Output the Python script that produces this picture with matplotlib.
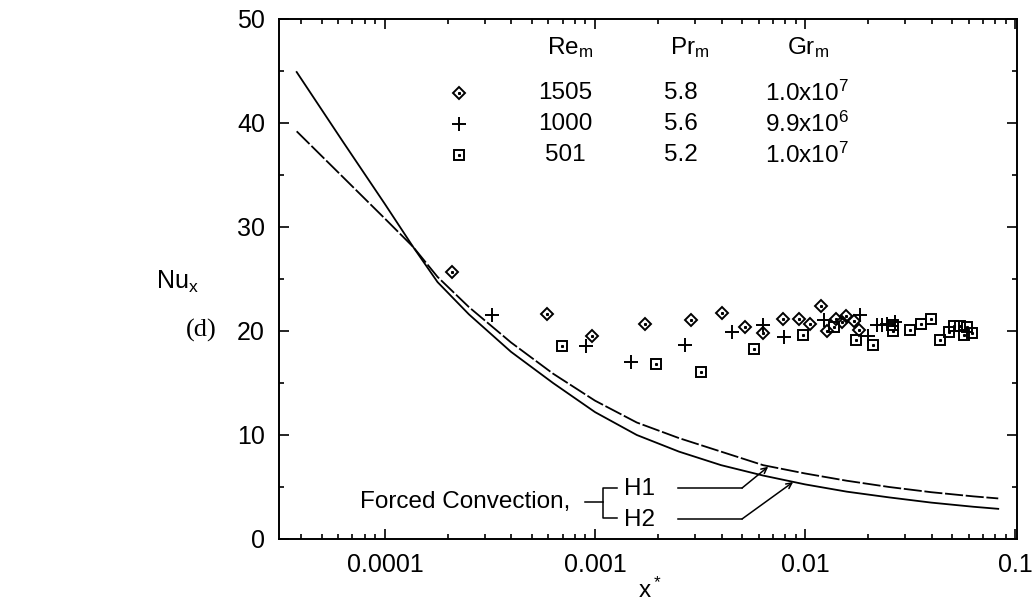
import matplotlib
matplotlib.use("Agg")
import matplotlib.pyplot as plt
from matplotlib.ticker import FixedLocator, NullFormatter, LogLocator

plt.rcParams["font.family"] = ["Liberation Sans", "DejaVu Sans"]
plt.rcParams["mathtext.fontset"] = "custom"
plt.rcParams["mathtext.rm"] = "Liberation Sans"
plt.rcParams["mathtext.it"] = "Liberation Sans:italic"

# Forced convection curves
curve_x = [3.8e-5, 6.31e-5, 1.0e-4, 1.36e-4, 1.78e-4, 2.51e-4, 3.98e-4, 6.31e-4, 1.0e-3,
           1.58e-3, 2.51e-3, 3.98e-3, 6.31e-3, 1.0e-2, 1.58e-2, 2.51e-2, 3.98e-2, 6.31e-2, 8.3e-2]
h1_nu = [39.2, 34.8, 30.8, 28.1, 25.2, 22.3, 18.9, 15.9, 13.3,
         11.2, 9.7, 8.4, 7.1, 6.3, 5.6, 5.0, 4.5, 4.1, 3.9]
h2_nu = [44.9, 38.2, 32.2, 28.1, 24.7, 21.6, 18.0, 15.0, 12.2,
         10.0, 8.4, 7.1, 6.1, 5.25, 4.55, 4.0, 3.5, 3.1, 2.9]

# Re_m = 1505
re1505_x = [2.09e-4, 5.89e-4, 9.64e-4, 1.73e-3, 2.86e-3, 4.01e-3, 5.18e-3, 6.30e-3, 7.83e-3,
            9.40e-3, 1.057e-2, 1.189e-2, 1.276e-2, 1.406e-2, 1.496e-2, 1.563e-2, 1.71e-2, 1.795e-2]
re1505_nu = [25.7, 21.6, 19.55, 20.7, 21.1, 21.7, 20.4, 19.8, 21.2,
             21.2, 20.7, 22.4, 20.0, 21.15, 20.9, 21.4, 21.0, 20.1]

# Re_m = 1000
re1000_x = [3.22e-4, 9.06e-4, 1.48e-3, 2.69e-3, 4.48e-3, 6.27e-3, 7.94e-3, 1.225e-2,
            1.83e-2, 2.0e-2, 2.19e-2, 2.32e-2, 2.45e-2, 2.69e-2]
re1000_nu = [21.5, 18.6, 17.05, 18.65, 19.9, 20.6, 19.4, 21.1,
             21.5, 19.5, 20.6, 20.6, 20.7, 20.9]

# Re_m = 501
re501_x = [6.93e-4, 1.95e-3, 3.20e-3, 5.71e-3, 9.75e-3, 1.365e-2, 1.74e-2, 2.11e-2, 2.61e-2,
           2.61e-2, 3.16e-2, 3.56e-2, 3.98e-2, 4.37e-2, 4.82e-2, 5.13e-2, 5.43e-2, 5.68e-2,
           5.89e-2, 6.22e-2]
re501_nu = [18.6, 16.8, 16.1, 18.3, 19.6, 20.35, 19.1, 18.7, 20.6,
            20.0, 20.1, 20.7, 21.2, 19.1, 19.9, 20.5, 20.5, 19.6,
            20.4, 19.8]

table_rows = [("1505", "5.8", "1.0x10$^7$"),
              ("1000", "5.6", "9.9x10$^6$"),
              ("501", "5.2", "1.0x10$^7$")]

FS = 17.5

fig = plt.figure(figsize=(10.34, 6.05), dpi=100)
ax = fig.add_axes([0.2698, 0.1091, 0.7138, 0.8595])

ax.plot(curve_x, h1_nu, color="black", lw=1.3, dashes=(10, 1.5))
ax.plot(curve_x, h2_nu, color="black", lw=1.3)

mk = dict(ls="none", color="black", mfc="none", mew=1.4)
ax.plot(re1505_x, re1505_nu, marker="D", ms=6, **mk)
ax.plot(re1505_x, re1505_nu, marker="s", ms=1.2, ls="none", color="black")
ax.plot(re1000_x, re1000_nu, marker="+", ms=9.5, **mk)
ax.plot(re501_x, re501_nu, marker="s", ms=6.8, **mk)
ax.plot(re501_x, re501_nu, marker="s", ms=1.2, ls="none", color="black")

ax.set_xscale("log")
ax.set_xlim(3.13e-5, 0.102)
ax.set_ylim(0, 50)
ax.set_xticks([1e-4, 1e-3, 1e-2, 1e-1])
ax.set_xticklabels(["0.0001", "0.001", "0.01", "0.1"])
ax.xaxis.set_minor_locator(LogLocator(base=10, subs=range(2, 10), numticks=20))
ax.xaxis.set_minor_formatter(NullFormatter())
ax.set_yticks([0, 10, 20, 30, 40, 50])
ax.yaxis.set_minor_locator(FixedLocator([5, 15, 25, 35, 45]))
ax.tick_params(which="both", direction="in", top=True, right=True, labelsize=18, width=1.2)
ax.tick_params(which="major", length=7, pad=10)
ax.tick_params(which="minor", length=3.5)
for s in ax.spines.values():
    s.set_linewidth(1.4)

tr = ax.transAxes
ax.text(0.503, -0.113, "x$^*$", transform=tr, fontsize=FS, ha="center", va="baseline")
ax.text(-0.137, 0.494, "Nu$_\\mathrm{x}$", transform=tr, fontsize=18, ha="center", va="center")
fig.text(0.195, 0.4545, "(d)", fontsize=19, family="Liberation Serif", ha="center", va="center")

# parameter table
ax.text(0.394, 0.946, "Re$_\\mathrm{m}$", transform=tr, fontsize=FS, ha="center", va="center")
ax.text(0.557, 0.946, "Pr$_\\mathrm{m}$", transform=tr, fontsize=FS, ha="center", va="center")
ax.text(0.717, 0.946, "Gr$_\\mathrm{m}$", transform=tr, fontsize=FS, ha="center", va="center")
row_y = [0.858, 0.798, 0.738]
ax.plot(0.244, row_y[0], marker="D", ms=6, transform=tr, **mk)
ax.plot(0.244, row_y[0], marker="s", ms=1.2, transform=tr, color="black")
ax.plot(0.244, row_y[1], marker="+", ms=9.5, transform=tr, **mk)
ax.plot(0.244, row_y[2], marker="s", ms=6.8, transform=tr, **mk)
ax.plot(0.244, row_y[2], marker="s", ms=1.2, transform=tr, color="black")
for y, (re, pr, gr) in zip(row_y, table_rows):
    ax.text(0.3875, y, re, transform=tr, fontsize=FS, ha="center", va="center")
    ax.text(0.545, y, pr, transform=tr, fontsize=FS, ha="center", va="center")
    ax.text(0.715, y, gr, transform=tr, fontsize=FS, ha="center", va="center")

# forced convection labels
ax.text(0.394, 0.071, "Forced Convection,", transform=tr, fontsize=FS, ha="right", va="center")
ax.plot([0.4146, 0.439], [0.071, 0.071], color="black", lw=1.1, transform=tr)
ax.plot([0.458, 0.439, 0.439, 0.458], [0.098, 0.098, 0.040, 0.040], color="black", lw=1.1, transform=tr)
ax.text(0.467, 0.096, "H1", transform=tr, fontsize=FS, ha="left", va="center")
ax.text(0.467, 0.0365, "H2", transform=tr, fontsize=FS, ha="left", va="center")
ax.plot([0.5407, 0.6274], [0.098, 0.098], color="black", lw=1.1, transform=tr)
ax.plot([0.5407, 0.6274], [0.0385, 0.0385], color="black", lw=1.1, transform=tr)
ax.annotate("", xy=(6.67e-3, 6.95), xycoords="data", xytext=(0.6274, 0.098), textcoords="axes fraction",
            arrowprops=dict(arrowstyle="->", color="black", lw=1.1, shrinkA=0, shrinkB=0))
ax.annotate("", xy=(8.77e-3, 5.48), xycoords="data", xytext=(0.6274, 0.0385), textcoords="axes fraction",
            arrowprops=dict(arrowstyle="->", color="black", lw=1.1, shrinkA=0, shrinkB=0))

fig.savefig("out.png", dpi=100)
